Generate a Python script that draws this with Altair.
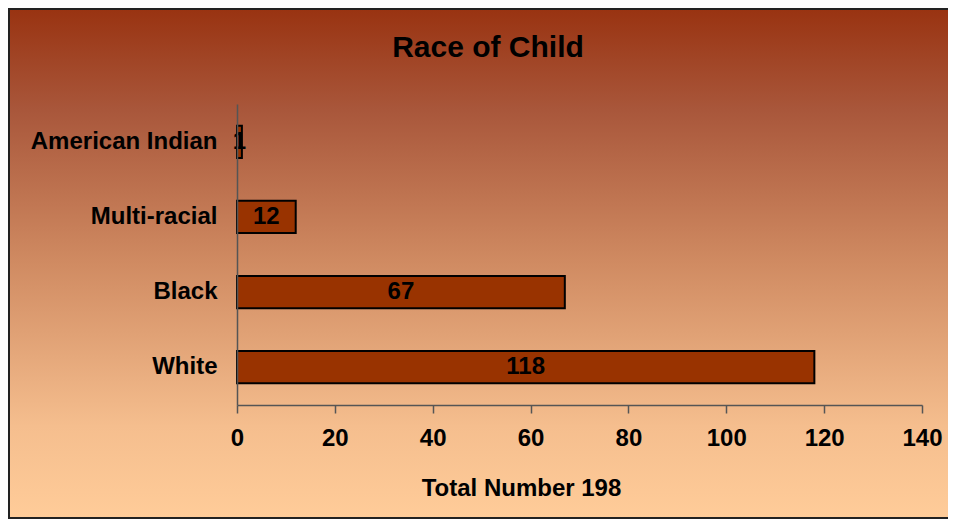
import altair as alt
import pandas as pd

categories = ["American Indian", "Multi-racial", "Black", "White"]
counts = [1, 12, 67, 118]
title_text = "Race of Child"
x_title = "Total Number 198"
x_ticks = [0, 20, 40, 60, 80, 100, 120, 140]

df = pd.DataFrame({"race": categories, "count": counts})
bg = pd.DataFrame({"k": [0]})
FONT = "Liberation Sans"

grad = alt.LinearGradient(
    gradient="linear",
    stops=[alt.GradientStop(color="#993311", offset=0),
           alt.GradientStop(color="#A9573B", offset=0.2),
           alt.GradientStop(color="#D08B62", offset=0.5),
           alt.GradientStop(color="#F5BE8E", offset=0.82),
           alt.GradientStop(color="#FFCC99", offset=1)],
    x1=0, x2=0, y1=0, y2=1,
)

background = alt.Chart(bg).mark_rect(fill=grad, stroke="#222222", strokeWidth=2).encode(
    x=alt.value(-228), x2=alt.value(760), y=alt.value(-95), y2=alt.value(414)
)

title = alt.Chart(bg).mark_text(
    text=title_text, font=FONT, fontSize=30, fontWeight="bold", color="black",
    align="center", baseline="alphabetic",
).encode(x=alt.value(251), y=alt.value(-47))

y_enc = alt.Y("race:N", sort=categories,
              scale=alt.Scale(paddingInner=0.57, paddingOuter=0.29),
              axis=alt.Axis(title=None, ticks=False, labelPadding=20, labelLimit=400,
                            labelFont=FONT, labelFontSize=24, labelFontWeight="bold",
                            labelColor="black", domainColor="#555555", domainWidth=1.5,
                            zindex=2))
x_enc = alt.X("count:Q", scale=alt.Scale(domain=[0, 140], nice=False),
              axis=alt.Axis(values=x_ticks, title=x_title, grid=False, labelFlush=False,
                            tickSize=8, tickColor="#555555", domainColor="#555555",
                            domainWidth=1.5, tickWidth=1.5,
                            labelFont=FONT, labelFontSize=24, labelFontWeight="bold",
                            labelColor="black", labelPadding=13,
                            titleFont=FONT, titleFontSize=24, titleFontWeight="bold",
                            titleColor="black", titleX=284, titleY=83,
                            titleBaseline="middle", zindex=2))

bars = alt.Chart(df).mark_bar(color="#993300", stroke="black", strokeWidth=2).encode(
    y=y_enc, x=x_enc
)

labels = alt.Chart(df).mark_text(
    font=FONT, fontSize=24, fontWeight="bold", color="black",
    align="center", baseline="middle",
).encode(
    y=alt.Y("race:N", sort=categories),
    x=alt.X("mid:Q"),
    text=alt.Text("count:Q"),
).transform_calculate(mid="datum.count / 2")

chart = alt.layer(background, bars, labels, title).properties(
    width=685, height=301,
    autosize=alt.AutoSizeParams(type="none"),
    padding={"left": 229, "top": 96, "right": 26, "bottom": 114},
).configure_view(stroke=None).configure(background="white")

chart.save("out.html", embed_options={"renderer": "svg", "actions": False})
